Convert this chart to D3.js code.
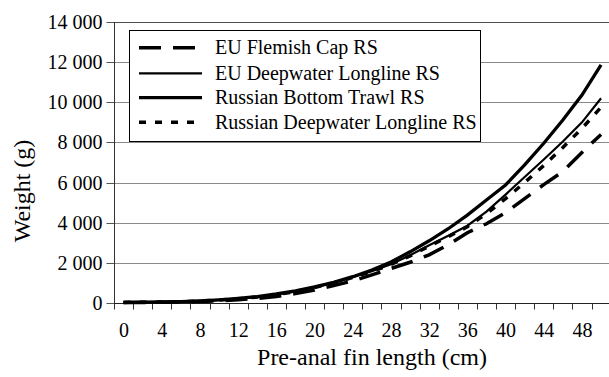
<!DOCTYPE html>
<html><head><meta charset="utf-8">
<script src="https://cdn.jsdelivr.net/npm/d3@7"></script>
<style>
body{margin:0;background:#fff}
svg{display:block}
text{font-family:"Liberation Serif","Times New Roman",serif;fill:#000}
</style>
</head><body>
<svg id="c" width="609" height="377"></svg>
<script>
// ---- data ----
const lengths = [0,2,4,6,8,10,12,14,16,18,20,22,24,26,28,30,32,34,36,38,40,42,44,46,48,50];
const flemishCap = [20,25,35,50,75,110,160,230,320,470,640,870,1100,1400,1720,2030,2400,2900,3500,3950,4500,5200,5900,6550,7500,8400];
const euDeepwaterLongline = [30,35,45,65,100,150,215,300,420,580,780,1010,1280,1580,1930,2380,2880,3350,3850,4550,5400,6280,7150,8050,9000,10200];
const russianBottomTrawl = [30,40,50,70,110,160,230,320,450,610,800,1030,1310,1640,2040,2550,3100,3700,4380,5130,5880,6880,7960,9120,10360,11860];
const russianDeepwaterLongline = [30,35,45,65,100,150,210,295,410,570,770,1000,1270,1570,1920,2350,2830,3300,3800,4450,5200,6000,6850,7750,8700,9750];
const seriesNames = ["EU Flemish Cap RS","EU Deepwater Longline RS","Russian Bottom Trawl RS","Russian Deepwater Longline RS"];
const yTickValues = [0,2000,4000,6000,8000,10000,12000,14000];
const xTickLabels = [0,4,8,12,16,20,24,28,32,36,40,44,48];
const xLabel = "Pre-anal fin length (cm)";
const yLabel = "Weight (g)";

// ---- styles ----
const styles = [
  {w:3.5, dash:"22,12"},
  {w:2.2, dash:null},
  {w:3.3, dash:null},
  {w:3.5, dash:"7,9"}
];
const seriesValues = [flemishCap, euDeepwaterLongline, russianBottomTrawl, russianDeepwaterLongline];

const svg = d3.select("#c");
const L = 114, T = 22, B = 303, R = 610.6;
// categorical axis: each category is 2 cm wide, centered on its value
const x = d3.scaleLinear().domain([-1, 51]).range([L, R]);
const y = d3.scaleLinear().domain([0, 14000]).range([B, T]);

// gridlines
svg.append("g").selectAll("line").data(yTickValues.filter(v => v > 0)).join("line")
  .attr("x1", L).attr("x2", 609).attr("y1", d => Math.round(y(d)) + 0.5).attr("y2", d => Math.round(y(d)) + 0.5)
  .attr("stroke", d => d === 14000 ? "#4d4d4d" : "#8a8a8a").attr("stroke-width", 1);

// y axis
const fmt = d => d3.format(",")(d).replace(/,/g, " ");
const yAxis = svg.append("g").attr("transform", `translate(${L + 0.5},0.5)`)
  .call(d3.axisLeft(y).tickValues(yTickValues).tickSize(8).tickPadding(4).tickFormat(fmt));
yAxis.select(".domain").remove();
yAxis.selectAll(".tick line").attr("stroke", "#555");
yAxis.selectAll(".tick text").attr("font-size", 20).attr("font-family", "Liberation Serif");
yAxis.selectAll(".tick").attr("transform", d => `translate(0,${Math.round(y(d))})`);
svg.append("line").attr("x1", L + 0.5).attr("x2", L + 0.5).attr("y1", T).attr("y2", B + 6)
  .attr("stroke", "#333");

// x axis (category boundary ticks)
const boundaries = d3.range(-1, 51, 2);
const xAxis = svg.append("g").attr("transform", `translate(0.5,${B + 0.5})`)
  .call(d3.axisBottom(x).tickValues(boundaries).tickSize(6).tickFormat(""));
xAxis.select(".domain").remove();
xAxis.selectAll(".tick line").attr("stroke", "#333");
xAxis.selectAll(".tick").attr("transform", d => `translate(${Math.round(x(d))},0)`);
svg.append("line").attr("x1", L).attr("x2", 609).attr("y1", B + 0.5).attr("y2", B + 0.5).attr("stroke", "#222");

const xLab = svg.append("g").attr("transform", `translate(0,${B})`)
  .call(d3.axisBottom(x).tickValues(xTickLabels).tickSize(0).tickPadding(19.5).tickFormat(d3.format("d")));
xLab.select(".domain").remove();
xLab.selectAll(".tick text").attr("font-size", 20).attr("font-family", "Liberation Serif");

// series
const line = d3.line().x((d, i) => x(lengths[i])).y(d => y(d));
const plot = svg.append("g");
seriesValues.forEach((vals, k) => {
  plot.append("path").datum(vals).attr("d", line)
    .attr("fill", "none").attr("stroke", "#000")
    .attr("stroke-width", styles[k].w)
    .attr("stroke-dasharray", styles[k].dash)
    .attr("stroke-linejoin", "miter");
});

// legend
const lg = svg.append("g");
lg.append("rect").attr("x", 129.5).attr("y", 30.5).attr("width", 351).attr("height", 111)
  .attr("fill", "#fff").attr("stroke", "#000").attr("stroke-width", 1);
const rowY = [47.7, 73.3, 97.7, 122.3];
seriesNames.forEach((n, k) => {
  lg.append("line").attr("x1", 139).attr("x2", 202).attr("y1", rowY[k]).attr("y2", rowY[k])
    .attr("stroke", "#000").attr("stroke-width", styles[k].w).attr("stroke-dasharray", styles[k].dash);
  lg.append("text").attr("x", 215).attr("y", rowY[k] + 6.6).attr("font-size", 20).text(n);
});

// axis titles
svg.append("text").attr("x", 372).attr("y", 365).attr("text-anchor", "middle").attr("font-size", 24).text(xLabel);
svg.append("text").attr("transform", "translate(30,191) rotate(-90)").attr("text-anchor", "middle").attr("font-size", 24).text(yLabel);
</script>
</body></html>
